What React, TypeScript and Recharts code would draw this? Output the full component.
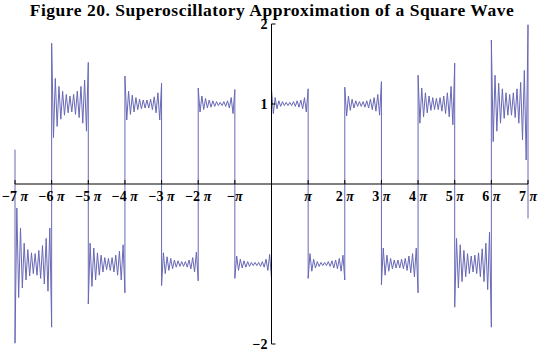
import { LineChart, Line, XAxis, YAxis, ReferenceLine } from 'recharts';

const PI = Math.PI;

// одна серия на каждый интервал [kπ, (k+1)π], 21 отсчёт
const SEG_M7 = [-1.99, -0.3, -1.42, -0.55, -1.3, -0.74, -1.2, -0.82, -1.15, -0.86, -1.12, -0.87, -1.14, -0.83, -1.18, -0.77, -1.25, -0.68, -1.34, -0.55, -1.79];
const SEG_M6 = [1.76, 0.58, 1.32, 0.72, 1.22, 0.81, 1.16, 0.86, 1.12, 0.89, 1.1, 0.9, 1.12, 0.87, 1.16, 0.83, 1.22, 0.76, 1.3, 0.66, 1.52];
const SEG_M5 = [-1.5, -0.74, -1.28, -0.8, -1.2, -0.86, -1.14, -0.89, -1.1, -0.92, -1.07, -0.93, -1.08, -0.92, -1.1, -0.89, -1.14, -0.84, -1.2, -0.76, -1.36];
const SEG_M4 = [1.35, 0.8, 1.16, 0.87, 1.11, 0.9, 1.08, 0.93, 1.06, 0.94, 1.05, 0.95, 1.05, 0.95, 1.06, 0.93, 1.09, 0.89, 1.14, 0.8, 1.26];
const SEG_M3 = [-1.27, -0.86, -1.12, -0.91, -1.08, -0.93, -1.06, -0.95, -1.04, -0.96, -1.03, -0.97, -1.03, -0.97, -1.04, -0.95, -1.06, -0.92, -1.1, -0.85, -1.21];
const SEG_M2 = [1.2, 0.9, 1.1, 0.93, 1.07, 0.95, 1.05, 0.96, 1.04, 0.97, 1.03, 0.98, 1.02, 0.98, 1.03, 0.97, 1.04, 0.95, 1.08, 0.88, 1.18];
const SEG_M1 = [-1.18, -0.9, -1.08, -0.94, -1.05, -0.96, -1.04, -0.97, -1.03, -0.98, -1.02, -0.98, -1.02, -0.98, -1.03, -0.97, -1.04, -0.94, -1.08, -0.88, -1.18];
const SEG_P0 = [1.18, 0.88, 1.08, 0.94, 1.04, 0.97, 1.03, 0.98, 1.02, 0.98, 1.02, 0.98, 1.03, 0.97, 1.04, 0.96, 1.05, 0.94, 1.08, 0.9, 1.19];
const SEG_P1 = [-1.18, -0.87, -1.09, -0.94, -1.05, -0.97, -1.03, -0.98, -1.02, -0.98, -1.02, -0.97, -1.03, -0.96, -1.05, -0.95, -1.06, -0.93, -1.09, -0.89, -1.2];
const SEG_P2 = [1.21, 0.85, 1.1, 0.92, 1.06, 0.95, 1.04, 0.97, 1.03, 0.97, 1.03, 0.96, 1.04, 0.95, 1.06, 0.93, 1.08, 0.91, 1.12, 0.86, 1.28];
const SEG_P3 = [-1.26, -0.8, -1.14, -0.89, -1.09, -0.93, -1.06, -0.95, -1.05, -0.95, -1.05, -0.94, -1.06, -0.93, -1.08, -0.9, -1.11, -0.87, -1.16, -0.8, -1.36];
const SEG_P4 = [1.36, 0.76, 1.2, 0.84, 1.14, 0.89, 1.1, 0.92, 1.08, 0.93, 1.07, 0.93, 1.08, 0.91, 1.1, 0.88, 1.14, 0.84, 1.22, 0.74, 1.51];
const SEG_P5 = [-1.54, -0.68, -1.3, -0.76, -1.22, -0.83, -1.16, -0.87, -1.12, -0.9, -1.1, -0.89, -1.12, -0.86, -1.16, -0.81, -1.22, -0.74, -1.32, -0.6, -1.79];
const SEG_P6 = [1.8, 0.53, 1.36, 0.66, 1.26, 0.76, 1.19, 0.82, 1.14, 0.86, 1.12, 0.86, 1.14, 0.83, 1.19, 0.76, 1.27, 0.55, 1.42, 0.3, 1.99];

const SEGMENTS = [SEG_M7, SEG_M6, SEG_M5, SEG_M4, SEG_M3, SEG_M2, SEG_M1, SEG_P0, SEG_P1, SEG_P2, SEG_P3, SEG_P4, SEG_P5, SEG_P6];
const SEGMENT_STARTS = [-7, -6, -5, -4, -3, -2, -1, 0, 1, 2, 3, 4, 5, 6];

// обрезанные края на ±7π
const LEFT_EDGE = 0.43;
const RIGHT_EDGE = -0.43;

const X_TICKS = [-7, -6, -5, -4, -3, -2, -1, 1, 2, 3, 4, 5, 6, 7];
const Y_TICKS = [-2, 1, 2];

const TITLE = 'Figure 20. Superoscillatory Approximation of a Square Wave';

const W = 540;
const H = 353;
// область графика: x 15..528, y 24..344
const PLOT = { left: 15, right: 528, top: 24, bottom: 344 };
const X_AXIS_H = 9;
const Y_AXIS_W = 15;
const MARGIN = { top: PLOT.top, right: W - PLOT.right, bottom: H - PLOT.bottom - X_AXIS_H, left: PLOT.left - Y_AXIS_W };
const ZERO_X = (PLOT.left + PLOT.right) / 2;
const ZERO_Y = (PLOT.top + PLOT.bottom) / 2;

const points: { x: number; y: number }[] = [{ x: -7 * PI, y: LEFT_EDGE }];
SEGMENTS.forEach((seg, s) => {
  seg.forEach((v, i) => {
    points.push({ x: (SEGMENT_STARTS[s] + i / (seg.length - 1)) * PI, y: v });
  });
});
points.push({ x: 7 * PI, y: RIGHT_EDGE });

const FONT = '"Liberation Serif", "Times New Roman", serif';

const XTick = (props: any) => {
  const { x, payload } = props;
  const k = Math.round(payload.value / PI);
  const sign = k < 0 ? '\u2212' : '';
  const n = Math.abs(k);
  const prefix = n === 1 ? sign : `${sign}${n} `;
  return (
    <g>
      <line x1={x} x2={x} y1={ZERO_Y} y2={ZERO_Y - 4} stroke="#000" />
      <text x={x} y={ZERO_Y + 17} textAnchor="middle" fontFamily={FONT} fontWeight="bold" fontSize={14} fill="#000">
        {prefix}
        <tspan fontStyle="italic">π</tspan>
      </text>
    </g>
  );
};

const YTick = (props: any) => {
  const { y, payload } = props;
  const v = payload.value;
  return (
    <g>
      <line x1={ZERO_X} x2={ZERO_X + 4} y1={y} y2={y} stroke="#000" />
      <text x={ZERO_X - 4} y={y + 5} textAnchor="end" fontFamily={FONT} fontWeight="bold" fontSize={14} fill="#000">
        {v < 0 ? `\u2212${Math.abs(v)}` : v}
      </text>
    </g>
  );
};

export default function App() {
  return (
    <div style={{ position: 'absolute', left: 0, top: 0, width: W, height: H, background: '#fff' }}>
      <div
        style={{
          position: 'absolute',
          left: 0,
          top: 0,
          width: W,
          paddingLeft: 4,
          boxSizing: 'border-box',
          textAlign: 'center',
          fontFamily: FONT,
          fontWeight: 'bold',
          fontSize: 17.5,
          letterSpacing: 0.5,
          lineHeight: '20px',
          color: '#000',
          whiteSpace: 'nowrap',
        }}
      >
        {TITLE}
      </div>
      <LineChart width={W} height={H} data={points} margin={MARGIN}>
        <XAxis
          dataKey="x"
          type="number"
          domain={[-7 * PI, 7 * PI]}
          ticks={X_TICKS.map((k) => k * PI)}
          interval={0}
          height={X_AXIS_H}
          axisLine={false}
          tickLine={false}
          tick={XTick}
        />
        <YAxis
          type="number"
          domain={[-2, 2]}
          ticks={Y_TICKS}
          interval={0}
          width={Y_AXIS_W}
          axisLine={false}
          tickLine={false}
          tick={YTick}
        />
        <Line
          type="linear"
          dataKey="y"
          stroke="#6868b6"
          strokeWidth={1}
          dot={false}
          isAnimationActive={false}
        />
        <ReferenceLine y={0} stroke="#000" strokeWidth={1} />
        <ReferenceLine x={0} stroke="#000" strokeWidth={1} />
      </LineChart>
    </div>
  );
}
